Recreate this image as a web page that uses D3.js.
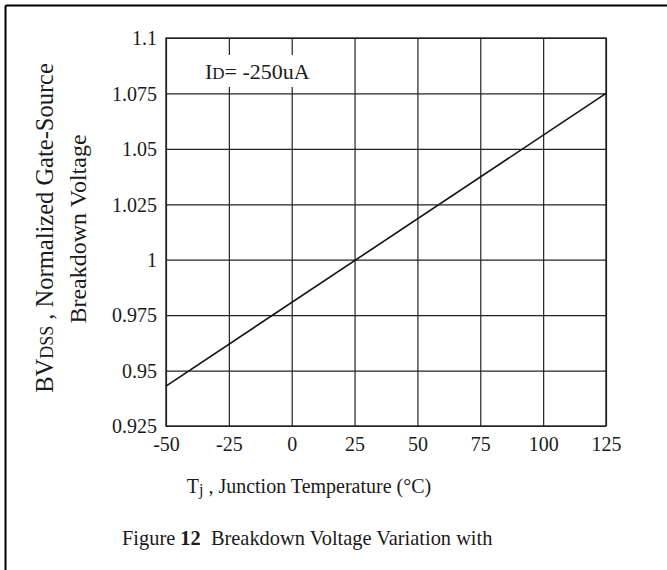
<!DOCTYPE html>
<html>
<head>
<meta charset="utf-8">
<script src="https://cdn.jsdelivr.net/npm/d3@7"></script>
<style>
  html, body { margin: 0; padding: 0; background: #fff; }
  svg { display: block; }
  text { font-family: "Liberation Serif", "Times New Roman", serif; fill: #1a1a1a; }
</style>
</head>
<body>
<svg id="chart" width="667" height="570"></svg>
<script>
// ---- data ----
const temperatures = [-50, 125];
const bvdssNorm = [0.943, 1.075];
const xTickValues = [-50, -25, 0, 25, 50, 75, 100, 125];
const yTickValues = [0.925, 0.95, 0.975, 1.0, 1.025, 1.05, 1.075, 1.1];
const yTickLabels = ["0.925", "0.95", "0.975", "1", "1.025", "1.05", "1.075", "1.1"];

const svg = d3.select("#chart");
const m = { left: 166, right: 606, top: 38, bottom: 426 };

// outer frame (top and left edges)
svg.append("line").attr("x1", 5.5).attr("x2", 667).attr("y1", 5.5).attr("y2", 5.5)
  .attr("stroke", "#000").attr("stroke-width", 2);
svg.append("line").attr("x1", 5.5).attr("x2", 5.5).attr("y1", 5.5).attr("y2", 570)
  .attr("stroke", "#000").attr("stroke-width", 2);

const x = d3.scaleLinear().domain([-50, 125]).range([m.left, m.right]);
const y = d3.scaleLinear().domain([0.925, 1.1]).range([m.bottom, m.top]);

const g = svg.append("g");

// grid via axes
const xGrid = d3.axisBottom(x).tickValues(xTickValues).tickSize(-(m.bottom - m.top)).tickFormat("");
g.append("g").attr("transform", `translate(0,${m.bottom})`).call(xGrid)
  .call(s => s.select(".domain").remove())
  .call(s => s.selectAll("line").attr("stroke", "#222").attr("stroke-width", 1.2));

const yGrid = d3.axisLeft(y).tickValues(yTickValues).tickSize(-(m.right - m.left)).tickFormat("");
g.append("g").attr("transform", `translate(${m.left},0)`).call(yGrid)
  .call(s => s.select(".domain").remove())
  .call(s => s.selectAll("line").attr("stroke", "#222").attr("stroke-width", 1.2));

// plot border
g.append("rect").attr("x", m.left).attr("y", m.top)
  .attr("width", m.right - m.left).attr("height", m.bottom - m.top)
  .attr("fill", "none").attr("stroke", "#222").attr("stroke-width", 1.4);

// x tick labels
const xAxis = d3.axisBottom(x).tickValues(xTickValues).tickSize(0).tickPadding(0)
  .tickFormat(d => String(d));
g.append("g").attr("transform", `translate(0,${m.bottom})`).call(xAxis)
  .call(s => s.select(".domain").remove())
  .call(s => s.selectAll("text").attr("y", 25).attr("dy", 0)
    .style("font-family", '"Liberation Serif", serif').style("font-size", "20px").attr("fill", "#1a1a1a"));

// y tick labels
const yAxis = d3.axisLeft(y).tickValues(yTickValues).tickSize(0).tickPadding(9)
  .tickFormat((d, i) => yTickLabels[i]);
g.append("g").attr("transform", `translate(${m.left},0)`).call(yAxis)
  .call(s => s.select(".domain").remove())
  .call(s => s.selectAll("text").attr("dy", "0.34em")
    .style("font-family", '"Liberation Serif", serif').style("font-size", "20px").attr("fill", "#1a1a1a"));

// data line
const pts = temperatures.map((t, i) => [t, bvdssNorm[i]]);
g.append("path").datum(pts)
  .attr("d", d3.line().x(d => x(d[0])).y(d => y(d[1])))
  .attr("fill", "none").attr("stroke", "#111").attr("stroke-width", 1.6);

// annotation with white background
g.append("rect").attr("x", 203).attr("y", 55).attr("width", 116).attr("height", 32).attr("fill", "#fff");
const ann = g.append("text").attr("x", 205).attr("y", 79).style("font-size", "22px");
ann.append("tspan").text("I");
ann.append("tspan").style("font-size", "17px").text("D");
ann.append("tspan").text("= -250uA");

// x axis title
const xt = svg.append("text").attr("x", 309).attr("y", 493).attr("text-anchor", "middle").style("font-size", "20px");
xt.append("tspan").text("T");
xt.append("tspan").style("font-size", "16px").attr("dy", 2).text("j");
xt.append("tspan").attr("dy", -2).text(" , Junction Temperature (°C)");

// y axis title (two lines, rotated)
const yt1 = svg.append("text").attr("transform", "translate(53,228) rotate(-90)")
  .attr("text-anchor", "middle").style("font-size", "24.5px");
yt1.append("tspan").text("BV");
yt1.append("tspan").style("font-size", "18px").text("DSS");
yt1.append("tspan").text(" , Normalized Gate-Source");
svg.append("text").attr("transform", "translate(86,229) rotate(-90)")
  .attr("text-anchor", "middle").style("font-size", "24px").text("Breakdown Voltage");

// caption
const cap = svg.append("text").attr("x", 122).attr("y", 545).style("font-size", "20.4px");
cap.append("tspan").text("Figure ");
cap.append("tspan").style("font-weight", "bold").text("12");
cap.append("tspan").text("\u00a0 Breakdown Voltage Variation with");
</script>
</body>
</html>
